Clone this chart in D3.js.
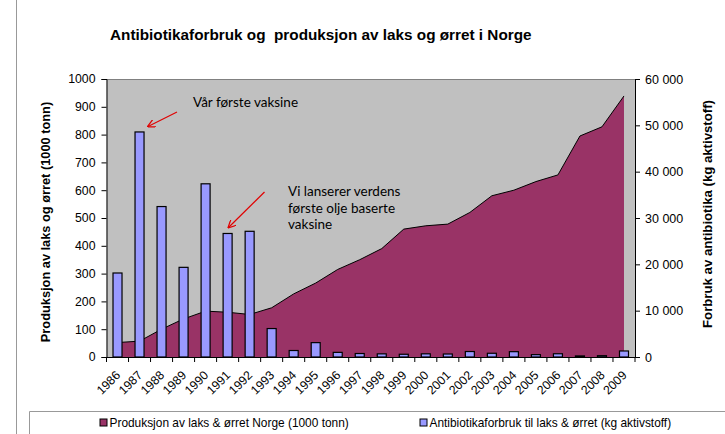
<!DOCTYPE html>
<html><head><meta charset="utf-8">
<script src="https://cdn.jsdelivr.net/npm/d3@7"></script>
<style>
body{margin:0;background:#fff;}
svg{display:block;}
</style></head>
<body>
<svg id="chart" width="725" height="434"></svg>
<script>
const years = ["1986","1987","1988","1989","1990","1991","1992","1993","1994","1995","1996","1997","1998","1999","2000","2001","2002","2003","2004","2005","2006","2007","2008","2009"];
const production = [52,57,100,137,165,161,153,177,227,266,315,350,390,460,472,478,520,580,600,631,655,795,828,939];
const antibiotics = [18130,48570,32470,19350,37380,26660,27130,6140,1400,3100,1000,750,680,590,685,645,1180,805,1150,507,701,234,285,1300];
const leftTicks = [0,100,200,300,400,500,600,700,800,900,1000];
const rightTicks = [0,10000,20000,30000,40000,50000,60000];
const title = "Antibiotikaforbruk og  produksjon av laks og ørret i Norge";
const leftTitle = "Produksjon av laks og ørret (1000 tonn)";
const rightTitle = "Forbruk av antibiotika (kg aktivstoff)";
const legendLabels = ["Produksjon av laks & ørret Norge (1000 tonn)", "Antibiotikaforbruk til laks & ørret (kg aktivstoff)"];
const notes = [["Vår første vaksine"], ["Vi lanserer verdens", "første olje baserte", "vaksine"]];

const svg = d3.select("#chart");
const L = 106.5, R = 635, T = 79, B = 357;
const font = "'Liberation Sans', Arial, sans-serif";

const x = d3.scaleBand().domain(years).range([L, R]).padding(0);
const yL = d3.scaleLinear().domain([0, 1000]).range([B, T]);
const yR = d3.scaleLinear().domain([0, 60000]).range([B, T]);
const loc = d3.formatLocale({decimal: ",", thousands: " ", grouping: [3], currency: ["", ""]});
const fmtR = loc.format(",d");

// outer frame & legend box
svg.append("line").attr("x1", 16.5).attr("x2", 16.5).attr("y1", 0).attr("y2", 434).attr("stroke", "#999").attr("stroke-width", 1);
svg.append("path").attr("d", "M29.5,434V411.5H725").attr("fill", "none").attr("stroke", "#999");

// title
svg.append("text").attr("x", 110).attr("y", 40).attr("font-family", font).attr("font-weight", "bold")
  .attr("font-size", 15.3).attr("fill", "#000").text(title).style("white-space", "pre");

// plot background
svg.append("rect").attr("x", L).attr("y", T).attr("width", R - L).attr("height", B - T).attr("fill", "#c0c0c0");
svg.append("line").attr("x1", L).attr("x2", R).attr("y1", T + 0.5).attr("y2", T + 0.5).attr("stroke", "#808080");

// area
const bw = x.bandwidth();
const area = d3.area().x((d, i) => x(years[i]) + bw / 2).y0(B).y1(d => yL(d));
const line = d3.line().x((d, i) => x(years[i]) + bw / 2).y(d => yL(d));
svg.append("path").datum(production).attr("d", area).attr("fill", "#993366");
svg.append("path").datum(production).attr("d", line).attr("fill", "none").attr("stroke", "#000").attr("stroke-width", 1);

// bars
const barW = 9;
svg.append("g").selectAll("rect").data(antibiotics).join("rect")
  .attr("x", (d, i) => x(years[i]) + bw / 2 - barW / 2)
  .attr("y", d => yR(d))
  .attr("width", barW)
  .attr("height", d => B - yR(d))
  .attr("fill", "#9999ff").attr("stroke", "#000").attr("stroke-width", 1.2);

// left axis
const gL = svg.append("g").attr("transform", `translate(${L},0)`)
  .call(d3.axisLeft(yL).tickValues(leftTicks).tickSize(5).tickPadding(6).tickFormat(d3.format("d")));
gL.select(".domain").attr("stroke", "#000");
gL.selectAll(".tick line").attr("stroke", "#000");
gL.selectAll("text").attr("font-family", font).attr("font-size", 12.3).attr("fill", "#000");

// right axis
const gR = svg.append("g").attr("transform", `translate(${R},0)`)
  .call(d3.axisRight(yR).tickValues(rightTicks).tickSize(5).tickPadding(5).tickFormat(fmtR));
gR.select(".domain").attr("stroke", "#000");
gR.selectAll(".tick line").attr("stroke", "#000");
gR.selectAll("text").attr("font-family", font).attr("font-size", 12.5).attr("fill", "#000");

// x axis
const gX = svg.append("g").attr("transform", `translate(0,${B})`)
  .call(d3.axisBottom(x).tickSize(0).tickFormat(d => d));
gX.select(".domain").attr("stroke", "#000");
gX.selectAll(".tick text").attr("font-family", font).attr("font-size", 12.3).attr("fill", "#000")
  .attr("text-anchor", "end").attr("dy", null).attr("y", 0)
  .attr("transform", "translate(3.5,19) rotate(-45)");
// category boundary tick marks
svg.append("g").selectAll("line").data(years.concat(["end"])).join("line")
  .attr("x1", (d, i) => L + i * bw).attr("x2", (d, i) => L + i * bw)
  .attr("y1", B).attr("y2", B + 5).attr("stroke", "#000");

// axis titles
svg.append("text").attr("transform", `translate(50,${(T + B) / 2 + 4}) rotate(-90)`).attr("text-anchor", "middle")
  .attr("font-family", font).attr("font-weight", "bold").attr("font-size", 12.8).text(leftTitle);
svg.append("text").attr("transform", `translate(712,${(T + B) / 2 - 4}) rotate(-90)`).attr("text-anchor", "middle")
  .attr("font-family", font).attr("font-weight", "bold").attr("font-size", 13.2).text(rightTitle);

// annotations
const nf = "Lato, 'Open Sans', sans-serif";
svg.append("text").attr("x", 193).attr("y", 107).attr("font-family", nf).attr("font-size", 13.5).attr("fill", "#000").text(notes[0][0]);
const t2 = svg.append("text").attr("x", 288).attr("y", 196).attr("font-family", nf).attr("font-size", 13.5).attr("fill", "#000");
notes[1].forEach((s, i) => t2.append("tspan").attr("x", 288).attr("y", 196 + i * 16.6).text(s));

svg.append("defs").append("marker").attr("id", "arr").attr("viewBox", "0 0 10 10").attr("refX", 9).attr("refY", 5)
  .attr("markerWidth", 7).attr("markerHeight", 7).attr("orient", "auto")
  .append("path").attr("d", "M0,0L10,5L0,10").attr("fill", "none").attr("stroke", "#e00000").attr("stroke-width", 1.5);
svg.append("line").attr("x1", 177).attr("y1", 112).attr("x2", 148).attr("y2", 126.5).attr("stroke", "#e00000").attr("stroke-width", 1.2).attr("marker-end", "url(#arr)");
svg.append("line").attr("x1", 264.5).attr("y1", 192).attr("x2", 228.5).attr("y2", 227.5).attr("stroke", "#e00000").attr("stroke-width", 1.2).attr("marker-end", "url(#arr)");

// legend
const leg = svg.append("g");
[[100, "#993366"], [420, "#9999ff"]].forEach(([lx, c], i) => {
  leg.append("rect").attr("x", lx).attr("y", 419).attr("width", 7).attr("height", 7).attr("fill", c).attr("stroke", "#000").attr("stroke-width", 1);
  leg.append("text").attr("x", lx + 9.5).attr("y", 427).attr("font-family", font).attr("font-size", 11.9).attr("fill", "#000").text(legendLabels[i]);
});
</script>
</body></html>
